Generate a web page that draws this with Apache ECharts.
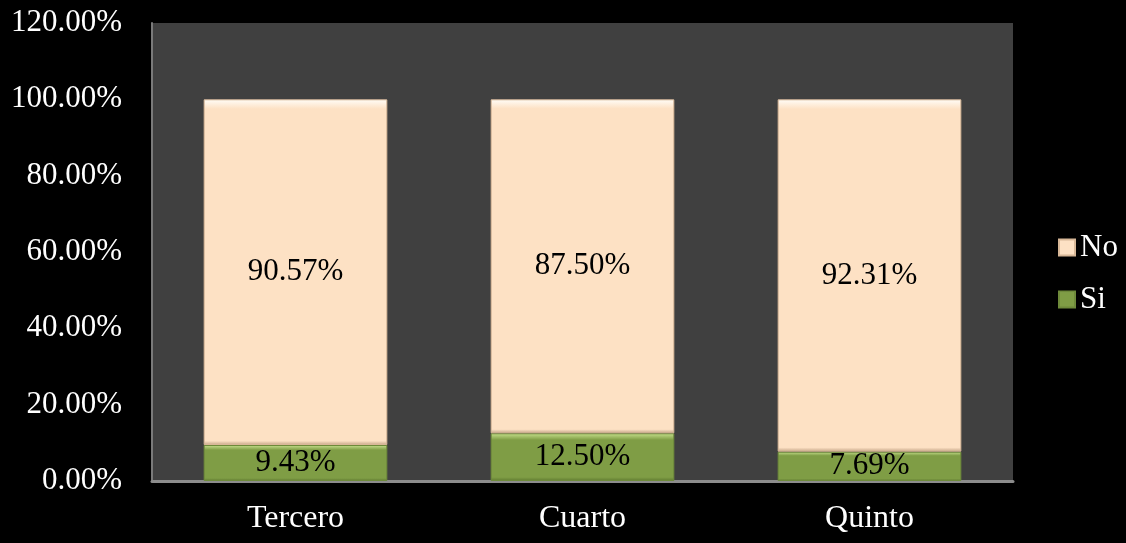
<!DOCTYPE html>
<html>
<head>
<meta charset="utf-8">
<style>
  html, body { margin: 0; padding: 0; background: #000; }
  #chart { width: 1126px; height: 543px; }
</style>
<script src="https://cdn.jsdelivr.net/npm/echarts@6/dist/echarts.min.js"></script>
</head>
<body>
<div id="chart"></div>
<script>
// Grades and the share of answers per grade (percent)
const categories = ['Tercero', 'Cuarto', 'Quinto'];
const siValues = [9.43, 12.50, 7.69];
const noValues = [90.57, 87.50, 92.31];
const yTicks = [0, 20, 40, 60, 80, 100, 120];

const FONT = '"Liberation Serif", "Times New Roman", serif';

// Bevelled look: light top edge, flat body, darker bottom edge
function bevel(light, base, dark, top, bottom) {
  return new echarts.graphic.LinearGradient(0, 0, 0, 1, [
    { offset: 0, color: light },
    { offset: top, color: base },
    { offset: 1 - bottom, color: base },
    { offset: 1, color: dark }
  ]);
}

const pct = p => p.value.toFixed(2) + '%';

const chart = echarts.init(document.getElementById('chart'));
chart.setOption({
  backgroundColor: '#000000',
  animation: false,
  grid: {
    left: 152, right: 113, top: 23, bottom: 62,
    show: true, backgroundColor: '#404040', borderWidth: 0
  },
  legend: {
    orient: 'vertical',
    left: 1053, top: 227,
    itemWidth: 16, itemHeight: 16, itemGap: 21,
    icon: 'rect',
    textStyle: { color: '#ffffff', fontFamily: FONT, fontSize: 31 },
    data: ['No', 'Si']
  },
  xAxis: {
    type: 'category',
    data: categories,
    axisLine: { show: true, lineStyle: { color: '#8c8c8c', width: 3 } },
    axisTick: { show: false },
    axisLabel: { color: '#ffffff', fontFamily: FONT, fontSize: 32, margin: 22 }
  },
  yAxis: {
    type: 'value',
    min: yTicks[0], max: yTicks[yTicks.length - 1], interval: 20,
    axisLine: { show: true, lineStyle: { color: '#7a7a7a', width: 2 } },
    axisTick: { show: false },
    splitLine: { show: false },
    axisLabel: {
      color: '#ffffff', fontFamily: FONT, fontSize: 31, margin: 30,
      formatter: v => v.toFixed(2) + '%'
    }
  },
  series: [
    {
      name: 'Si', type: 'bar', stack: 'total', barWidth: '64%',
      data: siValues,
      itemStyle: {
        color: bevel('#c8e28e', '#7f9d45', '#5f7a30', 0.14, 0.08),
        borderColor: '#6e8a3a', borderWidth: 1
      },
      label: {
        show: true, position: 'inside', color: '#000000',
        fontFamily: FONT, fontSize: 31, formatter: pct
      }
    },
    {
      name: 'No', type: 'bar', stack: 'total', barWidth: '64%',
      data: noValues,
      itemStyle: {
        color: bevel('#fffdf8', '#fde1c4', '#c4a486', 0.028, 0.012),
        borderColor: '#d8b898', borderWidth: 1
      },
      label: {
        show: true, position: 'inside', color: '#000000',
        fontFamily: FONT, fontSize: 31, formatter: pct
      }
    }
  ]
});
</script>
</body>
</html>
